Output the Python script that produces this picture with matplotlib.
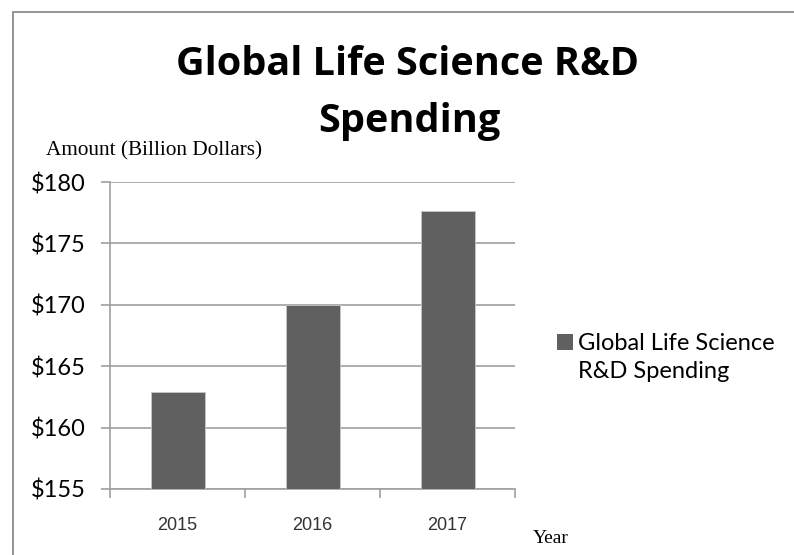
import matplotlib
matplotlib.use("Agg")
import matplotlib.pyplot as plt
from matplotlib.patches import Rectangle

years = ["2015", "2016", "2017"]
spending = [162.9, 170.0, 177.6]
yticks = [155, 160, 165, 170, 175, 180]
ytick_labels = ["$155", "$160", "$165", "$170", "$175", "$180"]
title_lines = ["Global Life Science R&D", "Spending"]
series_name = "Global Life Science\nR&D Spending"

W, H = 794, 555
fig = plt.figure(figsize=(W / 100, H / 100), dpi=100)
fig.patch.set_facecolor("white")

def fx(px):
    return px / W

def fy(py):
    return 1 - py / H

# outer frame (left and top edges visible)
fig.add_artist(Rectangle((fx(13), -0.05), 1.1, fy(12) + 0.05, transform=fig.transFigure,
                         fill=False, edgecolor="#8c8c8c", linewidth=1.3))

ax = fig.add_axes([fx(110), 66 / H, 405 / W, 307 / H])
x = list(range(len(years)))
ax.bar(x, [v - yticks[0] for v in spending], bottom=yticks[0], width=0.4,
       color="#606060", edgecolor="#c8c8c8", linewidth=0.6, zorder=3)
ax.set_xlim(-0.5, len(years) - 0.5)
ax.set_ylim(yticks[0], yticks[-1])
ax.set_yticks(yticks)
ax.set_yticklabels(ytick_labels, family="Lato", fontsize=17)
ax.set_xticks(x)
ax.set_xticklabels(years, family="Liberation Sans", fontsize=13, color="#333333")
ax.set_xticks([i - 0.5 for i in range(len(years) + 1)], minor=True)
ax.tick_params(axis="x", which="major", length=0, pad=20)
ax.tick_params(axis="x", which="minor", length=6.5, color="#a0a0a0", width=1.2)
ax.tick_params(axis="y", length=6.5, color="#a0a0a0", width=1.2, pad=11)
ax.grid(axis="y", color="#a0a0a0", linewidth=1.2, zorder=0)
for s in ["top", "right"]:
    ax.spines[s].set_visible(False)
for s in ["left", "bottom"]:
    ax.spines[s].set_color("#a0a0a0")
    ax.spines[s].set_linewidth(1.2)

fig.text(fx(408), fy(75), title_lines[0], ha="center", va="baseline", family="Open Sans",
         fontweight="bold", fontsize=28.5)
fig.text(fx(409), fy(132), title_lines[1], ha="center", va="baseline", family="Open Sans",
         fontweight="bold", fontsize=28.5)
fig.text(fx(46), fy(155), "Amount (Billion Dollars)", family="Liberation Serif",
         fontsize=15.3, ha="left", va="baseline")
fig.text(fx(533), fy(543), "Year", family="Liberation Serif",
         fontsize=14, ha="left", va="baseline")

# legend
fig.add_artist(Rectangle((fx(557), fy(350)), 16 / W, 16 / H, transform=fig.transFigure,
                         facecolor="#606060", edgecolor="none"))
fig.text(fx(578), fy(350), "Global Life Science", family="Lato", fontsize=17,
         ha="left", va="baseline")
fig.text(fx(578), fy(378), "R&D Spending", family="Lato", fontsize=17,
         ha="left", va="baseline")

fig.savefig("out.png", dpi=100)
